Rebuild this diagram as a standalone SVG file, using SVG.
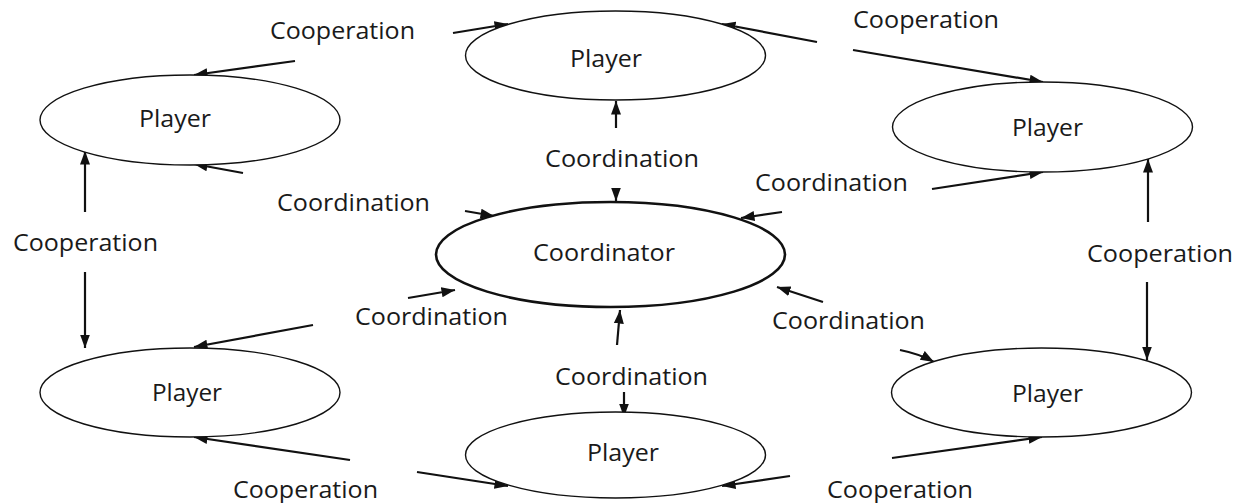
<svg xmlns="http://www.w3.org/2000/svg" width="1243" height="503" viewBox="0 0 1243 503">
<style>
.bg{fill:#ffffff}
.pl{fill:#ffffff;stroke:#111111;stroke-width:1.4}
.co{fill:#ffffff;stroke:#111111;stroke-width:2.6}
.t{font-family:"Open Sans","Noto Sans","Liberation Sans",sans-serif;font-size:23px;fill:#1a1a1a}
.e{stroke:#111111;stroke-width:2.2;fill:none;marker-end:url(#ah)}
</style>
<defs>
<marker id="ah" markerUnits="userSpaceOnUse" markerWidth="15" markerHeight="12" refX="13.5" refY="5.5" orient="auto">
<path d="M0,0.5 L13.5,5.5 L0,10.5 z" fill="#111111"/>
</marker>
</defs>
<rect class="bg" x="0" y="0" width="1243" height="503"/>

<g id="connectors">
<line class="e" x1="295" y1="61" x2="194" y2="75"/>
<line class="e" x1="243" y1="173" x2="194" y2="164"/>
<line class="e" x1="85" y1="212" x2="85" y2="151"/>
<line class="e" x1="85" y1="272" x2="85" y2="348"/>
<line class="e" x1="453" y1="33" x2="508" y2="24"/>
<line class="e" x1="817" y1="42" x2="722" y2="24"/>
<line class="e" x1="616" y1="128" x2="616" y2="101"/>
<line class="e" x1="616" y1="188" x2="616" y2="201"/>
<line class="e" x1="465" y1="211" x2="494" y2="216"/>
<line class="e" x1="782" y1="212" x2="741" y2="218"/>
<line class="e" x1="853" y1="50" x2="1043" y2="82"/>
<line class="e" x1="932" y1="189" x2="1043" y2="172"/>
<line class="e" x1="1148" y1="222" x2="1148" y2="159"/>
<line class="e" x1="1147" y1="282" x2="1147" y2="360"/>
<line class="e" x1="313" y1="325" x2="194" y2="347"/>
<line class="e" x1="350" y1="460" x2="194" y2="437"/>
<line class="e" x1="408" y1="298" x2="455" y2="290"/>
<line class="e" x1="417" y1="472" x2="508" y2="486"/>
<line class="e" x1="617" y1="345" x2="620" y2="310"/>
<line class="e" x1="624" y1="392" x2="624" y2="417"/>
<line class="e" x1="790" y1="476" x2="722" y2="486"/>
<line class="e" x1="823" y1="302" x2="777" y2="287"/>
<path class="e" d="M900,350 Q920,354 934,362"/>
<line class="e" x1="892" y1="458" x2="1042" y2="437"/>
</g>

<g id="player-top-left">
<ellipse class="pl" cx="190" cy="120" rx="150" ry="45"/>
<text class="t" x="139" y="127" textLength="72" lengthAdjust="spacingAndGlyphs">Player</text>
</g>
<g id="player-top">
<ellipse class="pl" cx="615.5" cy="55.5" rx="150" ry="44.5"/>
<text class="t" x="570" y="67" textLength="72" lengthAdjust="spacingAndGlyphs">Player</text>
</g>
<g id="player-top-right">
<ellipse class="pl" cx="1042.5" cy="127" rx="150" ry="45"/>
<text class="t" x="1012" y="136" textLength="71" lengthAdjust="spacingAndGlyphs">Player</text>
</g>
<g id="coordinator">
<ellipse class="co" cx="610.5" cy="254.5" rx="174.5" ry="52.5"/>
<text class="t" x="533" y="261" textLength="142" lengthAdjust="spacingAndGlyphs">Coordinator</text>
</g>
<g id="player-bottom-left">
<ellipse class="pl" cx="190" cy="392.5" rx="150" ry="44.5"/>
<text class="t" x="152" y="401" textLength="70" lengthAdjust="spacingAndGlyphs">Player</text>
</g>
<g id="player-bottom">
<ellipse class="pl" cx="615.5" cy="455" rx="150" ry="43"/>
<text class="t" x="587" y="461" textLength="72" lengthAdjust="spacingAndGlyphs">Player</text>
</g>
<g id="player-bottom-right">
<ellipse class="pl" cx="1041.5" cy="392.5" rx="150" ry="44.5"/>
<text class="t" x="1012" y="402" textLength="71" lengthAdjust="spacingAndGlyphs">Player</text>
</g>

<g id="labels">
<text class="t" x="270" y="39" textLength="145" lengthAdjust="spacingAndGlyphs">Cooperation</text>
<text class="t" x="277" y="211" textLength="153" lengthAdjust="spacingAndGlyphs">Coordination</text>
<text class="t" x="13" y="251" textLength="145" lengthAdjust="spacingAndGlyphs">Cooperation</text>
<text class="t" x="545" y="167" textLength="154" lengthAdjust="spacingAndGlyphs">Coordination</text>
<text class="t" x="853" y="28" textLength="146" lengthAdjust="spacingAndGlyphs">Cooperation</text>
<text class="t" x="755" y="191" textLength="153" lengthAdjust="spacingAndGlyphs">Coordination</text>
<text class="t" x="1087" y="262" textLength="146" lengthAdjust="spacingAndGlyphs">Cooperation</text>
<text class="t" x="355" y="325" textLength="153" lengthAdjust="spacingAndGlyphs">Coordination</text>
<text class="t" x="555" y="385" textLength="153" lengthAdjust="spacingAndGlyphs">Coordination</text>
<text class="t" x="772" y="329" textLength="153" lengthAdjust="spacingAndGlyphs">Coordination</text>
<text class="t" x="233" y="498" textLength="145" lengthAdjust="spacingAndGlyphs">Cooperation</text>
<text class="t" x="827" y="498" textLength="146" lengthAdjust="spacingAndGlyphs">Cooperation</text>
</g>
</svg>
